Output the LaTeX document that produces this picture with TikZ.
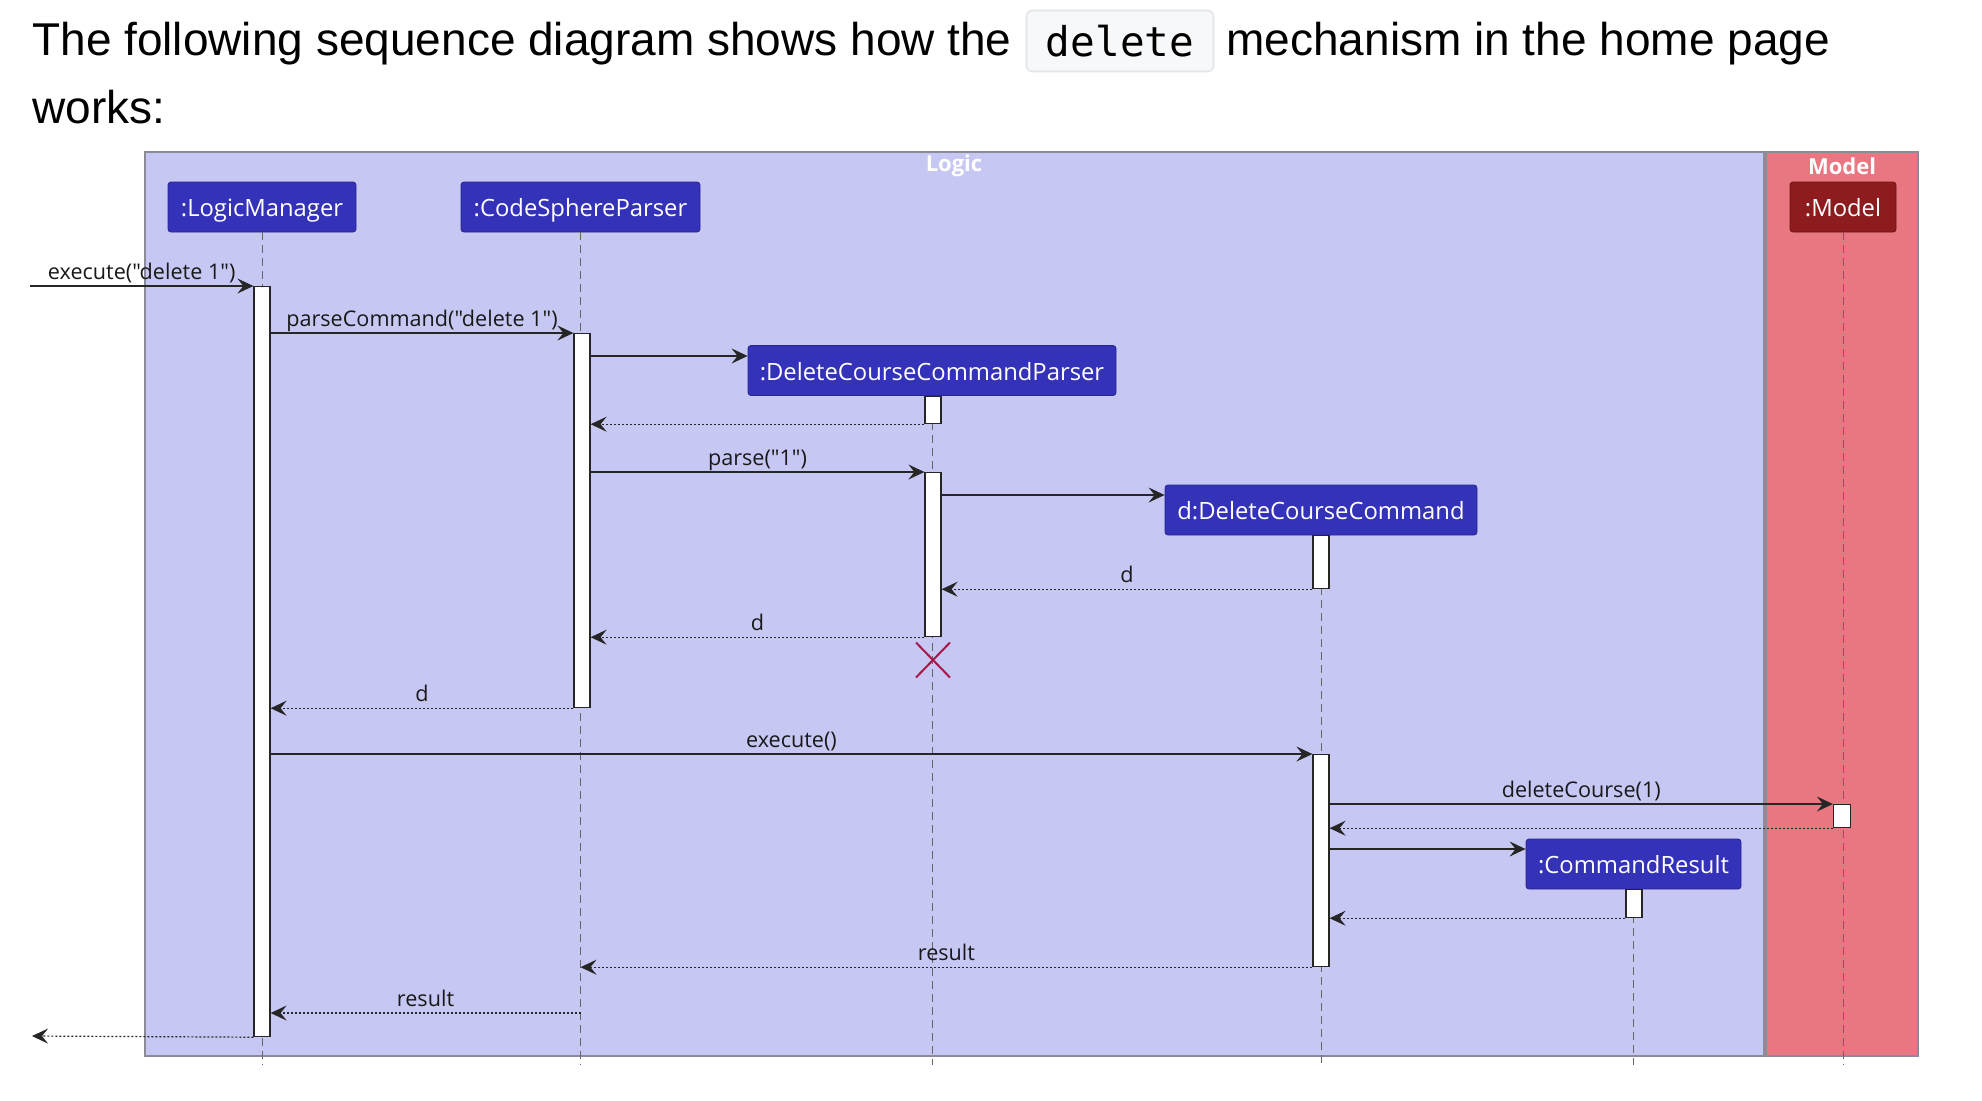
\documentclass[tikz,border=0pt]{standalone}
\usepackage{fontspec}
\setmainfont{Liberation Sans}
\setmonofont{DejaVu Sans Mono}
\newfontfamily\umlfont{Open Sans}[Ligatures=TeXOff]
\usetikzlibrary{arrows.meta,shapes.misc,calc}

\definecolor{logicbg}{HTML}{C7C7F4}
\definecolor{modelbg}{HTML}{E87781}
\definecolor{objblue}{HTML}{3432B8}
\definecolor{objred}{HTML}{8E1B1D}
\definecolor{framegray}{HTML}{8B8B99}
\definecolor{xred}{HTML}{A8174A}
\definecolor{codebg}{HTML}{F6F8FA}
\definecolor{codeline}{HTML}{E1E4E8}

\begin{document}
\begin{tikzpicture}[x=0.5pt,y=-0.5pt,>={Stealth[length=8pt,width=7.5pt,inset=3pt]},
    txt/.style={anchor=base west,inner sep=0pt,font=\fontsize{23}{28}\selectfont},
    code/.style={rectangle,rounded corners=3pt,fill=codebg,draw=codeline,line width=0.8pt,minimum width=93.5pt,minimum height=30.5pt,inner sep=0pt,font=\ttfamily\fontsize{20.5}{24}\selectfont},
    obj/.style={rectangle,rounded corners=1.5pt,fill=objblue,draw=objblue!75!black,line width=0.4pt,text=white,minimum height=25pt,inner sep=0pt,text height=9.5pt,text depth=0pt,font=\umlfont\fontsize{11.9}{14}\selectfont},
    ttl/.style={text=white,inner sep=0pt,font=\umlfont\bfseries\fontsize{11}{13}\selectfont},
    bar/.style={rectangle,draw=black!85,fill=white,line width=0.6pt,minimum width=8pt,inner sep=0pt,anchor=north},
    life/.style={draw=black!60,line width=0.5pt,dash pattern=on 4pt off 2.5pt},
    msg/.style={->,line width=0.75pt,draw=black!85},
    ret/.style={->,line width=0.6pt,draw=black!85,dash pattern=on 1pt off 1pt},
    lbl/.style={midway,anchor=base,yshift=3.5pt,inner sep=0pt,text=black!90,font=\umlfont\fontsize{10.8}{13}\selectfont},
    frame/.style={draw=framegray,line width=0.6pt}]
    \useasboundingbox[fill=white] (0,0) rectangle (1982,1100);

    % heading
    \node[txt] (intro) at (32,55) {The following sequence diagram shows how the};
    \node[code] (code) at (1120,41) {delete};
    \node[txt] (rest) at (1226,55) {mechanism in the home page};
    \node[txt] (works) at (32,123) {works:};

    % boxes round the participants
    \draw[frame,fill=logicbg] (145,152) rectangle (1764,1056);
    \draw[frame,fill=modelbg] (1766,152) rectangle (1918,1056);
    \node[ttl] (logic) at (954,166) {Logic};
    \node[ttl] (model) at (1842,166) {Model};

    \node[obj,minimum width=94pt] (lm) at (262,207) {:LogicManager};
    \node[obj,minimum width=119.5pt] (csp) at (580.5,207) {:CodeSphereParser};
    \node[obj,minimum width=184pt] (dp) at (932,370.5) {:DeleteCourseCommandParser};
    \node[obj,minimum width=156pt] (dc) at (1321,510) {d:DeleteCourseCommand};
    \node[obj,minimum width=107.5pt] (cr) at (1633.5,864) {:CommandResult};
    \node[obj,minimum width=53pt,fill=objred,draw=objred!75!black] (m) at (1843,207) {:Model};

    \coordinate (bot) at (0,1065);
    \foreach \p in {lm,csp,dp,dc,cr,m}
        \draw[life] (\p.south) -- (\p.south |- bot);

    \node[bar,minimum height=375pt] (lmb) at (262,286) {};
    \node[bar,minimum height=187pt] (cspb) at (582,333) {};
    \node[bar,minimum height=13.5pt] (dpb1) at (933,396) {};
    \node[bar,minimum height=82pt] (dpb2) at (933,472) {};
    \node[bar,minimum height=26.5pt] (dcb1) at (1321,535) {};
    \node[bar,minimum height=106pt] (dcb2) at (1321,754) {};
    \node[bar,minimum height=14pt] (crb) at (1634,889) {};
    \node[bar,minimum height=11.5pt,minimum width=8.5pt] (mb) at (1842,804) {};

    \node[cross out,draw=xred,line width=1pt,minimum width=16pt,minimum height=16.5pt,inner sep=0pt] (kill) at (933,660) {};

    \coordinate (in) at (30,286);
    \coordinate (out) at (32,1036);
    \coordinate (r3) at (0,356);
    \coordinate (r6) at (0,495);
    \coordinate (r13) at (0,849);
    \coordinate (r16) at (0,1013);

    \path
        (in) edge[msg] node[lbl] {execute("delete 1")} (lmb.north west)
        (lmb.east |- cspb.north) edge[msg] node[lbl] {parseCommand("delete 1")} (cspb.north west)
        (cspb.east |- r3) edge[msg] (dp.west |- r3)
        (dpb1.south west) edge[ret] (cspb.east |- dpb1.south)
        (cspb.east |- dpb2.north) edge[msg] node[lbl] {parse("1")} (dpb2.north west)
        (dpb2.east |- r6) edge[msg] (dc.west |- r6)
        (dcb1.south west) edge[ret] node[lbl] {d} (dpb2.east |- dcb1.south)
        (dpb2.south west) edge[ret] node[lbl] {d} (cspb.east |- dpb2.south)
        (cspb.south west) edge[ret] node[lbl] {d} (lmb.east |- cspb.south)
        (lmb.east |- dcb2.north) edge[msg] node[lbl] {execute()} (dcb2.north west)
        (dcb2.east |- mb.north) edge[msg] node[lbl] {deleteCourse(1)} (mb.north west)
        (mb.south west) edge[ret] (dcb2.east |- mb.south)
        (dcb2.east |- r13) edge[msg] (cr.west |- r13)
        (crb.south west) edge[ret] (dcb2.east |- crb.south)
        (dcb2.south west) edge[ret] node[lbl] {result} (csp.south |- dcb2.south)
        (csp.south |- r16) edge[ret] node[lbl] {result} (lmb.east |- r16)
        (lmb.south west) edge[ret] (out)
    ;
\end{tikzpicture}
\end{document}
